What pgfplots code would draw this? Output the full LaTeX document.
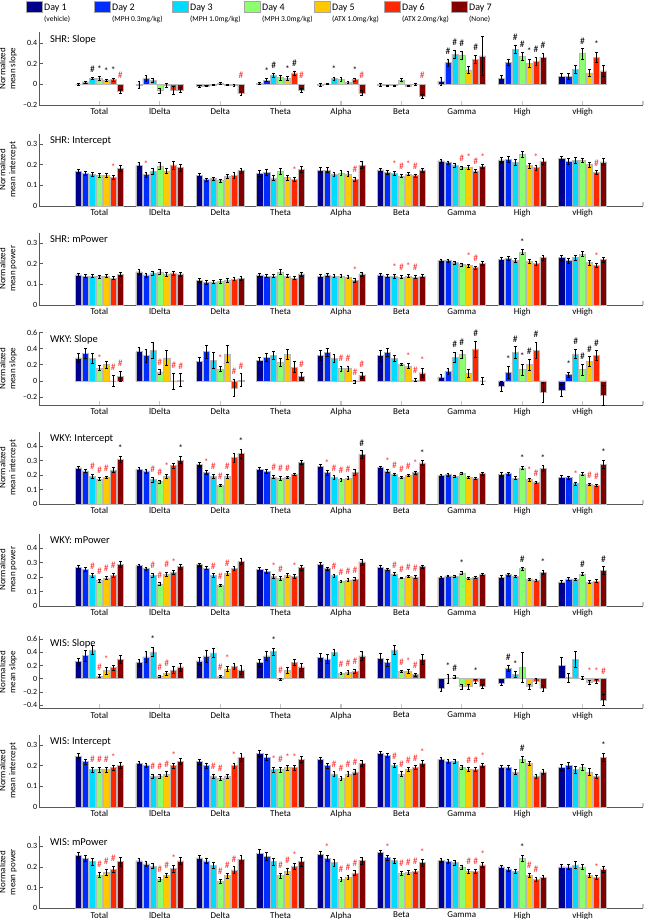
\documentclass[border=0pt]{standalone}
\usepackage{pgfplots}
\pgfplotsset{compat=1.18}
\usepackage{pgfplotstable}
\usepackage{fontspec}
\setmainfont{Carlito}

\definecolor{c1}{RGB}{0,0,140}
\definecolor{c2}{RGB}{0,45,255}
\definecolor{c3}{RGB}{0,220,255}
\definecolor{c4}{RGB}{140,255,110}
\definecolor{c5}{RGB}{255,200,0}
\definecolor{c6}{RGB}{255,40,0}
\definecolor{c7}{RGB}{130,0,0}
\definecolor{annred}{RGB}{255,45,45}

\tikzset{titl/.style={anchor=north west, inner sep=0pt, font=\fontsize{10.5}{12}\selectfont}}
\pgfplotsset{
 panel/.style={
  scale only axis, width=604pt, height=72.5pt,
  xmin=0, xmax=10,
  xtick={1,...,10}, xticklabels={Total,lDelta,Delta,Theta,Alpha,Beta,Gamma,High,vHigh,{}},
  axis x line*=bottom, axis y line*=left,
  tick align=inside, major tick length=4pt,
  xtick style={gray!45, line width=1.1pt},
  ytick style={gray!70!black, line width=0.5pt},
  axis line style={gray!70!black, line width=0.6pt},
  yticklabel style={font=\fontsize{8}{9}\selectfont, inner sep=1.5pt},
  xticklabel style={font=\fontsize{9}{10}\selectfont},
  ylabel style={align=center, font=\fontsize{9}{10}\selectfont, at={(axis description cs:-0.031,0.5)}, anchor=south},
  clip=false,
 },
 mybar/.style={ybar, bar width=6.1pt, bar shift=0pt, draw=gray!55, line width=0.5pt, fill=#1,
  error bars/y dir=both, error bars/y explicit,
  error bars/error bar style={black, line width=0.6pt},
  error bars/error mark options={black, rotate=90, mark size=1.4pt, line width=0.6pt}},
 annot/.style={draw=none, mark=none, nodes near coords, point meta=explicit symbolic,
  every node near coord/.append style={text=#1, anchor=base, inner sep=0pt, yshift=4.5pt, font=\fontsize{9.5}{9.5}\selectfont}},
}

\newcommand{\bars}[1]{%
 \addplot[mybar=c1] table[x expr=\thisrow{c}-0.345,y=m1,y error=e1]{#1};
 \addplot[mybar=c2] table[x expr=\thisrow{c}-0.23,y=m2,y error=e2]{#1};
 \addplot[mybar=c3] table[x expr=\thisrow{c}-0.115,y=m3,y error=e3]{#1};
 \addplot[mybar=c4] table[x expr=\thisrow{c},y=m4,y error=e4]{#1};
 \addplot[mybar=c5] table[x expr=\thisrow{c}+0.115,y=m5,y error=e5]{#1};
 \addplot[mybar=c6] table[x expr=\thisrow{c}+0.23,y=m6,y error=e6]{#1};
 \addplot[mybar=c7] table[x expr=\thisrow{c}+0.345,y=m7,y error=e7]{#1};
}

% SHR slope
\pgfplotstableread{
c m1 e1 m2 e2 m3 e3 m4 e4 m5 e5 m6 e6 m7 e7
1 0.000 0.008 0.023 0.010 0.058 0.012 0.055 0.020 0.039 0.010 0.045 0.012 -0.065 0.020
2 -0.005 0.035 0.055 0.030 0.035 0.020 -0.060 0.025 -0.010 0.020 -0.060 0.040 -0.055 0.025
3 -0.015 0.010 -0.015 0.008 -0.005 0.005 0.010 0.010 -0.005 0.005 -0.010 0.010 -0.090 0.020
4 0.010 0.008 0.040 0.015 0.090 0.020 0.065 0.025 0.055 0.020 0.110 0.020 -0.055 0.020
5 -0.005 0.010 0.005 0.005 0.055 0.015 0.045 0.020 0.020 0.010 0.045 0.015 -0.085 0.025
6 -0.005 0.015 -0.010 0.005 -0.010 0.005 0.040 0.015 -0.015 0.008 0.000 0.005 -0.115 0.020
7 0.030 0.040 0.210 0.035 0.290 0.040 0.280 0.040 0.140 0.030 0.240 0.040 0.275 0.190
8 0.058 0.030 0.210 0.030 0.340 0.040 0.270 0.040 0.200 0.040 0.220 0.040 0.260 0.040
9 0.080 0.030 0.080 0.030 0.145 0.040 0.295 0.050 0.110 0.030 0.260 0.050 0.130 0.050
}\tA
% SHR intercept
\pgfplotstableread{
c m1 e1 m2 e2 m3 e3 m4 e4 m5 e5 m6 e6 m7 e7
1 0.166 0.010 0.156 0.010 0.152 0.010 0.147 0.010 0.147 0.010 0.138 0.010 0.181 0.015
2 0.196 0.017 0.151 0.012 0.166 0.015 0.194 0.017 0.168 0.012 0.198 0.020 0.185 0.017
3 0.148 0.010 0.128 0.008 0.132 0.008 0.123 0.008 0.143 0.010 0.147 0.015 0.171 0.013
4 0.157 0.013 0.163 0.013 0.136 0.010 0.167 0.015 0.138 0.012 0.127 0.010 0.178 0.015
5 0.173 0.012 0.173 0.012 0.155 0.010 0.158 0.012 0.155 0.012 0.130 0.010 0.197 0.017
6 0.174 0.008 0.163 0.008 0.158 0.008 0.145 0.008 0.155 0.008 0.147 0.008 0.174 0.010
7 0.218 0.008 0.210 0.008 0.197 0.008 0.185 0.008 0.187 0.010 0.169 0.008 0.190 0.010
8 0.223 0.013 0.226 0.013 0.210 0.015 0.248 0.015 0.195 0.013 0.185 0.012 0.216 0.015
9 0.229 0.013 0.215 0.013 0.221 0.015 0.221 0.010 0.200 0.013 0.163 0.008 0.213 0.015
}\tB
% SHR mPower
\pgfplotstableread{
c m1 e1 m2 e2 m3 e3 m4 e4 m5 e5 m6 e6 m7 e7
1 0.145 0.008 0.140 0.008 0.140 0.008 0.137 0.008 0.140 0.008 0.130 0.008 0.148 0.010
2 0.160 0.010 0.145 0.010 0.155 0.010 0.160 0.010 0.150 0.010 0.155 0.010 0.150 0.010
3 0.120 0.008 0.110 0.008 0.112 0.008 0.115 0.008 0.120 0.008 0.125 0.008 0.130 0.010
4 0.145 0.008 0.140 0.008 0.140 0.008 0.160 0.010 0.140 0.008 0.130 0.008 0.150 0.010
5 0.140 0.008 0.145 0.008 0.140 0.008 0.140 0.008 0.135 0.008 0.120 0.008 0.150 0.010
6 0.145 0.008 0.140 0.008 0.138 0.008 0.135 0.008 0.140 0.008 0.135 0.008 0.140 0.008
7 0.215 0.008 0.215 0.008 0.205 0.008 0.195 0.008 0.190 0.008 0.180 0.008 0.200 0.010
8 0.220 0.010 0.225 0.010 0.215 0.010 0.255 0.012 0.210 0.010 0.200 0.010 0.230 0.012
9 0.230 0.012 0.215 0.012 0.230 0.012 0.245 0.012 0.205 0.012 0.190 0.010 0.220 0.012
}\tC
% WKY slope
\pgfplotstableread{
c m1 e1 m2 e2 m3 e3 m4 e4 m5 e5 m6 e6 m7 e7
1 0.286 0.050 0.343 0.060 0.280 0.060 0.160 0.030 0.200 0.045 0.000 0.070 0.060 0.060
2 0.363 0.050 0.314 0.080 0.375 0.100 0.110 0.030 0.286 0.090 -0.005 0.100 0.010 0.080
3 0.245 0.050 0.363 0.080 0.250 0.100 0.150 0.030 0.335 0.110 -0.086 0.110 0.010 0.080
4 0.257 0.040 0.294 0.050 0.314 0.050 0.233 0.050 0.327 0.060 0.171 0.070 0.057 0.050
5 0.320 0.060 0.355 0.050 0.278 0.050 0.151 0.030 0.151 0.030 -0.010 0.020 0.070 0.040
6 0.314 0.070 0.355 0.050 0.280 0.040 0.204 0.010 0.184 0.030 0.010 0.020 0.100 0.060
7 0.045 0.030 0.118 0.040 0.294 0.060 0.327 0.050 0.094 0.050 0.396 0.100 0.000 0.040
8 -0.065 0.060 0.106 0.070 0.355 0.070 0.139 0.070 0.200 0.070 0.380 0.100 -0.143 0.120
9 -0.118 0.080 0.078 0.030 0.335 0.060 0.139 0.070 0.240 0.060 0.314 0.060 -0.180 0.120
}\tD
% WKY intercept
\pgfplotstableread{
c m1 e1 m2 e2 m3 e3 m4 e4 m5 e5 m6 e6 m7 e7
1 0.250 0.010 0.228 0.012 0.190 0.015 0.172 0.010 0.184 0.010 0.235 0.015 0.310 0.020
2 0.241 0.015 0.228 0.013 0.168 0.015 0.154 0.010 0.190 0.015 0.264 0.020 0.303 0.025
3 0.274 0.015 0.218 0.015 0.190 0.015 0.131 0.008 0.190 0.015 0.320 0.030 0.347 0.030
4 0.241 0.015 0.223 0.013 0.186 0.012 0.177 0.013 0.184 0.010 0.205 0.010 0.287 0.015
5 0.262 0.012 0.216 0.015 0.182 0.013 0.170 0.010 0.179 0.010 0.218 0.018 0.342 0.025
6 0.253 0.010 0.228 0.010 0.205 0.010 0.182 0.007 0.200 0.008 0.218 0.010 0.283 0.015
7 0.198 0.008 0.202 0.008 0.193 0.008 0.211 0.008 0.184 0.008 0.177 0.008 0.211 0.010
8 0.205 0.012 0.209 0.010 0.179 0.010 0.250 0.013 0.170 0.010 0.152 0.008 0.246 0.018
9 0.186 0.013 0.182 0.010 0.140 0.010 0.207 0.012 0.136 0.010 0.131 0.008 0.274 0.030
}\tE
% WKY mPower
\pgfplotstableread{
c m1 e1 m2 e2 m3 e3 m4 e4 m5 e5 m6 e6 m7 e7
1 0.269 0.012 0.253 0.012 0.211 0.012 0.175 0.010 0.194 0.010 0.213 0.013 0.288 0.020
2 0.278 0.012 0.257 0.013 0.211 0.014 0.152 0.010 0.218 0.014 0.234 0.014 0.271 0.020
3 0.285 0.010 0.262 0.012 0.211 0.012 0.145 0.008 0.227 0.014 0.260 0.016 0.306 0.020
4 0.253 0.014 0.241 0.013 0.206 0.012 0.190 0.012 0.211 0.013 0.206 0.012 0.264 0.016
5 0.285 0.016 0.257 0.013 0.211 0.010 0.171 0.008 0.178 0.010 0.185 0.010 0.304 0.020
6 0.269 0.010 0.253 0.010 0.222 0.008 0.194 0.006 0.206 0.008 0.201 0.008 0.271 0.012
7 0.199 0.006 0.208 0.006 0.206 0.008 0.229 0.010 0.190 0.006 0.199 0.006 0.218 0.008
8 0.199 0.010 0.218 0.010 0.206 0.008 0.257 0.010 0.182 0.006 0.178 0.008 0.234 0.012
9 0.166 0.008 0.187 0.008 0.185 0.008 0.222 0.010 0.166 0.010 0.171 0.010 0.246 0.025
}\tF
% WIS slope
\pgfplotstableread{
c m1 e1 m2 e2 m3 e3 m4 e4 m5 e5 m6 e6 m7 e7
1 0.260 0.050 0.350 0.080 0.437 0.070 0.040 0.020 0.122 0.050 0.168 0.040 0.290 0.060
2 0.244 0.050 0.330 0.080 0.406 0.070 0.040 0.015 0.081 0.030 0.132 0.050 0.178 0.060
3 0.270 0.050 0.345 0.090 0.390 0.070 0.040 0.015 0.147 0.040 0.188 0.050 0.132 0.070
4 0.244 0.050 0.345 0.070 0.410 0.050 -0.010 0.020 0.127 0.050 0.250 0.040 0.178 0.060
5 0.320 0.060 0.300 0.070 0.400 0.050 0.080 0.020 0.090 0.030 0.112 0.030 0.345 0.070
6 0.310 0.070 0.244 0.050 0.437 0.070 0.112 0.020 0.112 0.030 0.060 0.020 0.295 0.070
7 -0.147 0.040 0.000 0.070 0.025 0.020 -0.122 0.040 -0.122 0.040 -0.035 0.030 -0.117 0.030
8 -0.066 0.030 0.157 0.050 0.066 0.040 0.173 0.230 -0.122 0.040 -0.035 0.040 -0.147 0.050
9 0.198 0.120 0.015 0.070 0.295 0.120 0.010 0.020 -0.056 0.030 -0.035 0.030 -0.325 0.080
}\tG
% WIS intercept
\pgfplotstableread{
c m1 e1 m2 e2 m3 e3 m4 e4 m5 e5 m6 e6 m7 e7
1 0.245 0.012 0.220 0.012 0.180 0.012 0.180 0.012 0.180 0.012 0.190 0.012 0.200 0.015
2 0.210 0.010 0.200 0.010 0.150 0.010 0.150 0.010 0.160 0.010 0.200 0.012 0.220 0.015
3 0.220 0.012 0.200 0.012 0.150 0.010 0.140 0.010 0.150 0.010 0.200 0.012 0.240 0.020
4 0.260 0.015 0.240 0.015 0.180 0.012 0.180 0.012 0.190 0.012 0.190 0.012 0.230 0.015
5 0.230 0.012 0.200 0.012 0.160 0.010 0.140 0.010 0.160 0.010 0.170 0.010 0.210 0.015
6 0.260 0.010 0.250 0.010 0.200 0.010 0.160 0.010 0.180 0.010 0.190 0.010 0.210 0.015
7 0.230 0.010 0.220 0.010 0.220 0.010 0.190 0.010 0.180 0.010 0.180 0.010 0.200 0.010
8 0.190 0.010 0.190 0.010 0.170 0.010 0.230 0.015 0.210 0.010 0.150 0.010 0.170 0.010
9 0.190 0.015 0.200 0.015 0.180 0.015 0.190 0.015 0.170 0.015 0.150 0.010 0.240 0.020
}\tH
% WIS mPower
\pgfplotstableread{
c m1 e1 m2 e2 m3 e3 m4 e4 m5 e5 m6 e6 m7 e7
1 0.256 0.015 0.241 0.015 0.225 0.015 0.162 0.012 0.175 0.015 0.188 0.015 0.225 0.020
2 0.229 0.012 0.214 0.013 0.204 0.012 0.141 0.010 0.159 0.010 0.191 0.015 0.229 0.018
3 0.243 0.015 0.229 0.013 0.209 0.015 0.130 0.010 0.159 0.012 0.186 0.015 0.237 0.020
4 0.266 0.020 0.250 0.018 0.225 0.015 0.159 0.012 0.178 0.015 0.203 0.015 0.225 0.020
5 0.260 0.015 0.240 0.015 0.220 0.015 0.140 0.010 0.150 0.010 0.170 0.012 0.230 0.018
6 0.270 0.012 0.245 0.012 0.230 0.012 0.170 0.010 0.175 0.010 0.180 0.010 0.220 0.015
7 0.230 0.010 0.225 0.010 0.220 0.010 0.200 0.010 0.180 0.010 0.180 0.010 0.210 0.012
8 0.200 0.010 0.190 0.010 0.180 0.010 0.240 0.015 0.160 0.010 0.140 0.010 0.150 0.010
9 0.200 0.012 0.200 0.012 0.210 0.015 0.200 0.012 0.160 0.010 0.150 0.010 0.190 0.015
}\tI

\begin{document}
\begin{tikzpicture}
\useasboundingbox (0,0) rectangle (646pt,-919pt);
% legend
\foreach \x/\c/\n/\s in {26/c1/1/{(vehicle)}, 94/c2/2/{(MPH 0.3mg/kg)}, 172/c3/3/{(MPH 1.0mg/kg)}, 244/c4/4/{(MPH 3.0mg/kg)}, 314/c5/5/{(ATX 1.0mg/kg)}, 384/c6/6/{(ATX 2.0mg/kg)}, 451/c7/7/{(None)}}{
 \fill[\c, draw=gray!70, line width=0.5pt] (\x pt,-1pt) rectangle ++(16pt,-11pt);
 \node[anchor=base west, inner sep=0pt, font=\fontsize{10}{12}\selectfont] at ([xshift=18pt]\x pt,-10.5pt) {Day \n};
 \node[anchor=base west, inner sep=0pt, font=\fontsize{7.5}{9}\selectfont] at ([xshift=18pt]\x pt,-21pt) {\s};
}

% 1 SHR Slope
\begin{axis}[panel, at={(39pt,-105pt)}, anchor=south west, ymin=-0.2, ymax=0.5,
 ytick={-0.2,0,0.2,0.4}, yticklabels={\textendash0.2,0,0.2,0.4}, ylabel={Normalized\\mean slope}]
\bars{\tA}
\addplot[annot=black] coordinates {(0.885,0.07)[\#] (1,0.075)[*] (1.115,0.049)[*] (1.23,0.057)[*]
 (3.77,0.055)[*] (3.885,0.11)[\#] (4.115,0.075)[*] (4.23,0.13)[\#] (4.885,0.07)[*] (5.23,0.06)[*]
 (6.77,0.245)[\#] (6.885,0.33)[\#] (7,0.32)[\#] (7.23,0.28)[\#]
 (7.885,0.38)[\#] (8,0.31)[\#] (8.115,0.24)[*] (8.23,0.26)[\#] (8.345,0.3)[\#] (9,0.345)[\#] (9.23,0.31)[*]};
\addplot[annot=annred] coordinates {(1.345,0.01)[\#] (3.345,0.01)[\#] (4.345,0.01)[\#] (5.345,0.01)[\#] (6.345,0.01)[\#]};
\node[titl] at (rel axis cs:0.018,0.96) {SHR: Slope};
\end{axis}

% 2 SHR Intercept
\begin{axis}[panel, at={(39pt,-206pt)}, anchor=south west, ymin=0, ymax=0.35,
 ytick={0,0.1,0.2,0.3}, yticklabels={0,0.1,0.2,0.3}, ylabel={Normalized\\mean intercept}]
\bars{\tB}
\addplot[annot=annred] coordinates {(1.23,0.148)[*] (1.77,0.163)[*] (4.23,0.137)[*] (5.23,0.14)[\#]
 (5.885,0.166)[*] (6,0.153)[\#] (6.115,0.163)[*] (6.23,0.155)[\#]
 (7,0.193)[\#] (7.115,0.197)[*] (7.23,0.177)[\#] (7.345,0.2)[*] (8.23,0.197)[*] (9.23,0.171)[\#]};
\node[titl] at (rel axis cs:0.018,0.96) {SHR: Intercept};
\end{axis}

% 3 SHR mPower
\begin{axis}[panel, at={(39pt,-305pt)}, anchor=south west, ymin=0, ymax=0.35,
 ytick={0,0.1,0.2,0.3}, yticklabels={0,0.1,0.2,0.3}, ylabel={Normalized\\mean power}]
\bars{\tC}
\addplot[annot=black] coordinates {(8,0.267)[*]};
\addplot[annot=annred] coordinates {(5.23,0.128)[*] (5.885,0.146)[*] (6,0.143)[\#] (6.115,0.148)[*] (6.23,0.143)[\#]
 (7.115,0.198)[*] (7.23,0.188)[\#] (9.23,0.2)[*]};
\node[titl] at (rel axis cs:0.018,0.96) {SHR: mPower};
\end{axis}

% 4 WKY Slope
\begin{axis}[panel, at={(39pt,-405pt)}, anchor=south west, ymin=-0.3, ymax=0.6,
 ytick={-0.2,0,0.2,0.4,0.6}, yticklabels={\textendash0.2,0,0.2,0.4,0.6}, ylabel={Normalized\\mean slope}]
\bars{\tD}
\addplot[annot=black] coordinates {(6.885,0.354)[\#] (7,0.377)[\#] (7.23,0.496)[\#]
 (7.77,0.176)[*] (7.885,0.425)[\#] (8,0.209)[*] (8.115,0.27)[\#] (8.23,0.48)[\#]
 (8.77,0.108)[*] (8.885,0.395)[\#] (9,0.209)[\#] (9.115,0.3)[\#] (9.23,0.374)[\#]};
\addplot[annot=annred] coordinates {(1,0.19)[*] (1.23,0.07)[\#] (1.345,0.12)[\#]
 (2,0.14)[\#] (2.23,0.095)[\#] (2.345,0.09)[\#] (3,0.18)[*] (3.23,0.024)[\#] (3.345,0.09)[\#]
 (4.345,0.107)[\#] (5,0.181)[\#] (5.115,0.181)[\#] (5.23,0.01)[\#] (5.345,0.11)[\#]
 (6.115,0.214)[*] (6.23,0.03)[\#] (6.345,0.16)[*]};
\node[titl] at (rel axis cs:0.018,0.96) {WKY: Slope};
\end{axis}

% 5 WKY Intercept
\begin{axis}[panel, at={(39pt,-504pt)}, anchor=south west, ymin=0, ymax=0.5,
 ytick={0,0.1,0.2,0.3,0.4}, yticklabels={0,0.1,0.2,0.3,0.4}, ylabel={Normalized\\mean intercept}]
\bars{\tE}
\addplot[annot=black] coordinates {(1.345,0.33)[*] (2.345,0.328)[*] (3.345,0.377)[*] (5.345,0.367)[\#]
 (6.345,0.298)[*] (8,0.263)[*] (8.345,0.264)[*] (9.345,0.304)[*]};
\addplot[annot=annred] coordinates {(0.885,0.205)[\#] (1,0.182)[\#] (1.115,0.194)[\#]
 (1.885,0.183)[\#] (2,0.164)[\#] (2.115,0.205)[*] (2.77,0.233)[*] (2.885,0.205)[\#] (3,0.139)[\#] (3.115,0.205)[\#]
 (3.885,0.198)[\#] (4,0.19)[\#] (4.115,0.194)[\#] (4.77,0.231)[*] (4.885,0.195)[\#] (5,0.18)[\#] (5.115,0.189)[\#]
 (5.77,0.238)[*] (5.885,0.215)[\#] (6,0.189)[\#] (6.115,0.208)[\#] (6.23,0.228)[*]
 (8.115,0.18)[*] (8.23,0.16)[\#] (8.885,0.15)[*] (9.115,0.146)[\#] (9.23,0.139)[\#]};
\node[titl] at (rel axis cs:0.018,0.96) {WKY: Intercept};
\end{axis}

% 6 WKY mPower
\begin{axis}[panel, at={(39pt,-606pt)}, anchor=south west, ymin=0, ymax=0.5,
 ytick={0,0.1,0.2,0.3,0.4}, yticklabels={0,0.1,0.2,0.3,0.4}, ylabel={Normalized\\mean power}]
\bars{\tF}
\addplot[annot=black] coordinates {(7,0.239)[*] (8,0.267)[\#] (8.345,0.246)[*] (9,0.232)[\#] (9.345,0.271)[\#]};
\addplot[annot=annred] coordinates {(0.885,0.223)[\#] (1,0.185)[\#] (1.115,0.204)[\#] (1.23,0.226)[\#]
 (1.885,0.225)[\#] (2,0.162)[\#] (2.115,0.232)[\#] (2.23,0.248)[*]
 (2.885,0.223)[\#] (3,0.153)[\#] (3.115,0.241)[\#]
 (3.885,0.218)[*] (4,0.202)[\#] (4.23,0.218)[*]
 (4.885,0.221)[\#] (5,0.179)[\#] (5.115,0.188)[\#] (5.23,0.195)[\#]
 (5.885,0.23)[\#] (6,0.2)[\#] (6.115,0.214)[\#] (6.23,0.209)[\#]};
\node[titl] at (rel axis cs:0.018,0.96) {WKY: mPower};
\end{axis}

% 7 WIS Slope
\begin{axis}[panel, at={(39pt,-708.3pt)}, anchor=south west, ymin=-0.45, ymax=0.65,
 ytick={-0.4,-0.2,0,0.2,0.4,0.6}, yticklabels={\textendash0.4,\textendash0.2,0,0.2,0.4,0.6}, ylabel={Normalized\\mean slope}]
\bars{\tG}
\addplot[annot=black] coordinates {(1.885,0.476)[*] (3.885,0.46)[*] (6.77,0.07)[*] (6.885,0.045)[\#] (7.23,0.0)[*]
 (7.77,0.207)[\#] (7.885,0.106)[*]};
\addplot[annot=annred] coordinates {(1,0.06)[\#] (1.115,0.172)[*] (2,0.055)[\#] (2.115,0.111)[\#]
 (3,0.055)[\#] (3.115,0.187)[*] (4,0.01)[\#] (5,0.1)[\#] (5.115,0.12)[\#] (5.23,0.142)[\#]
 (6,0.132)[\#] (6.115,0.142)[*] (6.23,0.08)[\#] (9.115,0.0)[*] (9.23,0.0)[*] (9.345,0.0)[\#]};
\node[titl] at (rel axis cs:0.018,0.96) {WIS: Slope};
\end{axis}

% 8 WIS Intercept
\begin{axis}[panel, at={(39pt,-807pt)}, anchor=south west, ymin=0, ymax=0.35,
 ytick={0,0.1,0.2,0.3}, yticklabels={0,0.1,0.2,0.3}, ylabel={Normalized\\mean intercept}]
\bars{\tH}
\addplot[annot=black] coordinates {(8,0.245)[\#] (9.345,0.26)[*]};
\addplot[annot=annred] coordinates {(0.885,0.192)[\#] (1,0.192)[\#] (1.115,0.192)[\#] (1.23,0.202)[*]
 (1.885,0.16)[\#] (2,0.16)[\#] (2.115,0.17)[\#] (2.23,0.212)[*]
 (2.885,0.16)[\#] (3,0.15)[\#] (3.23,0.212)[*]
 (3.885,0.192)[*] (4,0.192)[\#] (4.115,0.202)[*] (4.23,0.202)[*]
 (4.885,0.17)[\#] (5,0.15)[\#] (5.115,0.17)[\#] (5.23,0.18)[\#]
 (5.885,0.21)[\#] (6,0.17)[\#] (6.115,0.19)[\#] (6.23,0.2)[\#] (6.345,0.225)[*]
 (7.115,0.19)[\#] (7.23,0.19)[\#] (7.345,0.21)[*]};
\node[titl] at (rel axis cs:0.018,0.96) {WIS: Intercept};
\end{axis}

% 9 WIS mPower
\begin{axis}[panel, at={(39pt,-908.3pt)}, anchor=south west, ymin=0, ymax=0.35,
 ytick={0,0.1,0.2,0.3}, yticklabels={0,0.1,0.2,0.3}, ylabel={Normalized\\mean power}]
\bars{\tI}
\addplot[annot=black] coordinates {(8,0.255)[*]};
\addplot[annot=annred] coordinates {(1,0.174)[\#] (1.115,0.19)[\#] (1.23,0.203)[\#]
 (2,0.151)[\#] (2.115,0.169)[\#] (2.23,0.206)[*] (3,0.14)[\#] (3.115,0.171)[\#] (3.23,0.201)[\#]
 (4,0.171)[\#] (4.115,0.193)[\#] (4.23,0.218)[*]
 (4.77,0.255)[*] (5,0.15)[\#] (5.115,0.16)[\#] (5.23,0.182)[\#]
 (5.77,0.257)[*] (6,0.18)[\#] (6.115,0.185)[\#] (6.23,0.19)[\#] (6.345,0.235)[*]
 (7.115,0.19)[\#] (7.23,0.19)[\#] (7.345,0.222)[*]
 (8.115,0.17)[\#] (8.23,0.15)[\#] (9.23,0.16)[*]};
\node[titl] at (rel axis cs:0.018,0.96) {WIS: mPower};
\end{axis}
\end{tikzpicture}
\end{document}
